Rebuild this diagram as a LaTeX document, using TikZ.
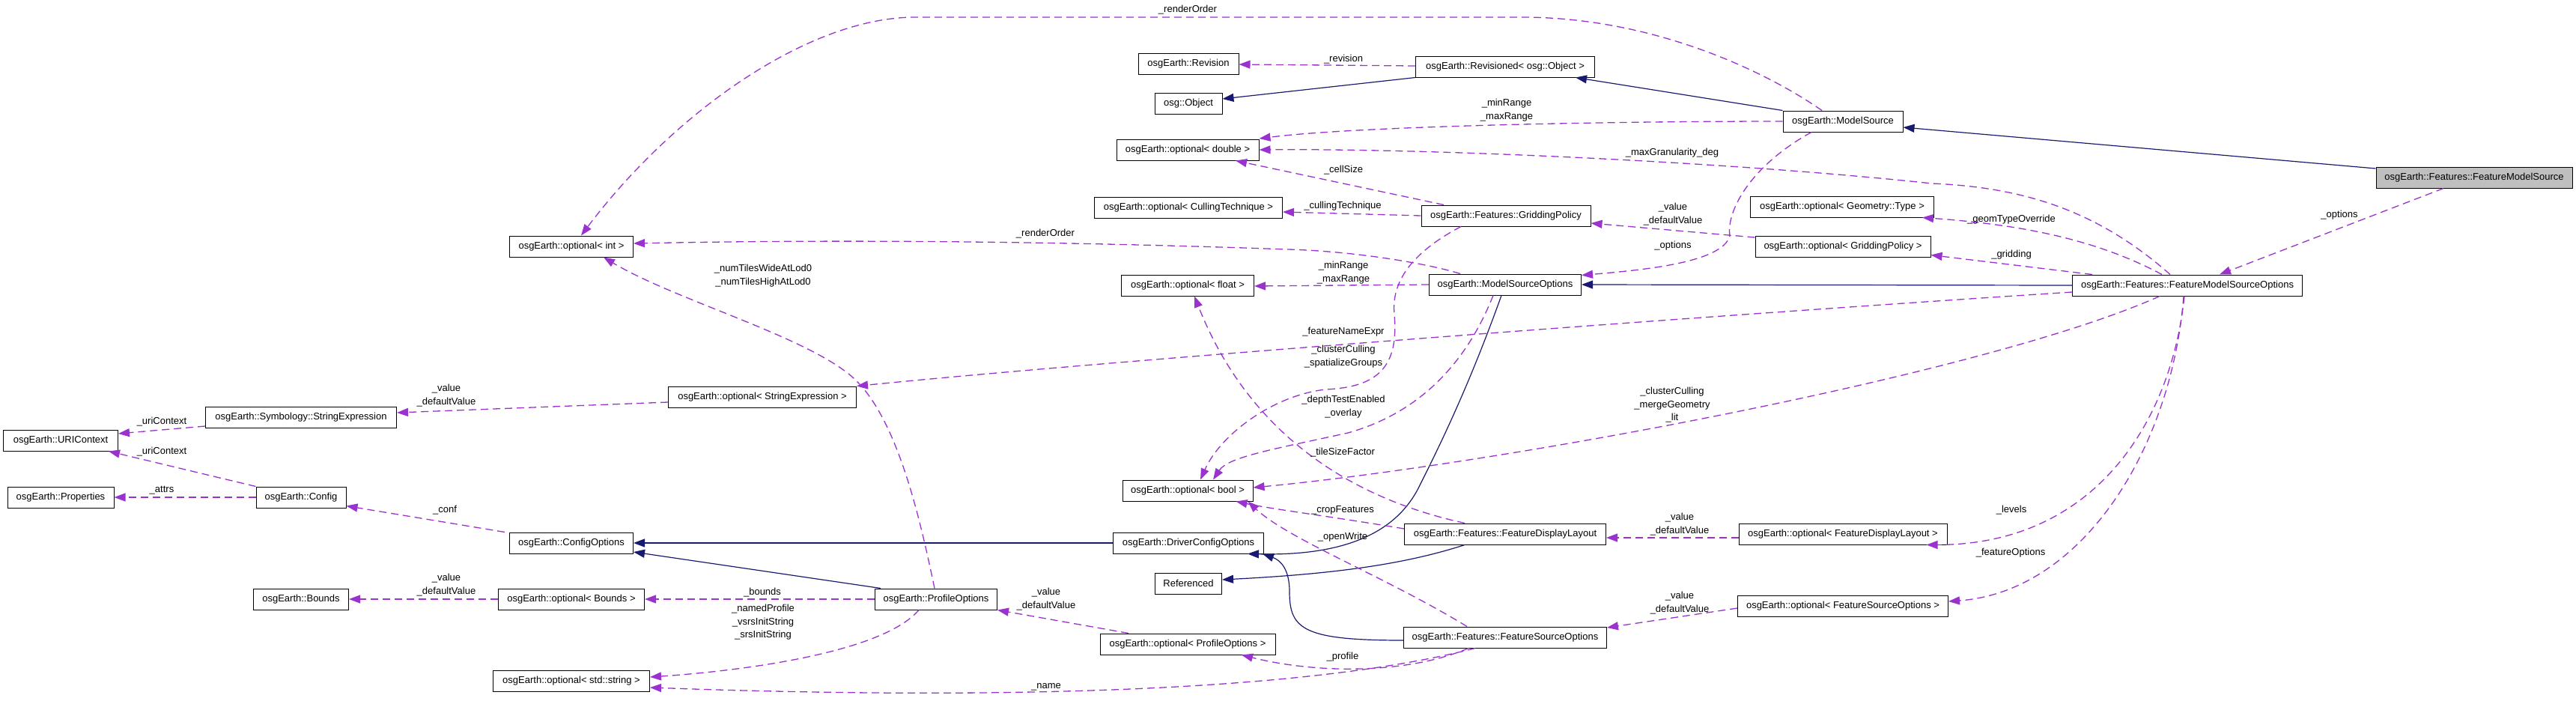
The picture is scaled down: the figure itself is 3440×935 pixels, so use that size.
\documentclass[tikz,border=0pt]{standalone}
\usepackage{fontspec}
\setmainfont{Liberation Sans}
\usetikzlibrary{arrows.meta}
\definecolor{usecol}{HTML}{9A32CD}
\definecolor{inhcol}{HTML}{191970}
\definecolor{mainfill}{HTML}{BFBFBF}
\begin{document}
\begin{tikzpicture}[x=1pt,y=-1pt,
  box/.style={draw=black,line width=1pt,fill=white,minimum height=28pt,inner sep=0pt,font=\fontsize{13}{15}\selectfont},
  mainbox/.style={box,fill=mainfill},
  dep/.style={draw=usecol,line width=1.3pt,dash pattern=on 10pt off 6pt,-{Triangle[length=15pt,width=11pt]},usecol},
  inh/.style={draw=inhcol,line width=1.2pt,-{Triangle[length=15pt,width=11pt]},inhcol},
  lbl/.style={font=\fontsize{13}{17.5}\selectfont,align=center,inner sep=0pt}
]
\useasboundingbox (0,0) rectangle (3440,935);
% nodes
\node[box,minimum width=134pt] (rev) at (1587,85) {osgEarth::Revision};
\node[box,minimum width=90pt] (obj) at (1587,138) {osg::Object};
\node[box,minimum width=190pt] (optd) at (1586,200) {osgEarth::optional< double >};
\node[box,minimum width=251pt] (optct) at (1587,277) {osgEarth::optional< CullingTechnique >};
\node[box,minimum width=239pt] (revd) at (2010,89) {osgEarth::Revisioned< osg::Object >};
\node[box,minimum width=160pt] (ms) at (2461,162) {osgEarth::ModelSource};
\node[box,minimum width=226pt] (gp) at (2011,288) {osgEarth::Features::GriddingPolicy};
\node[box,minimum width=245pt] (ogt) at (2460,276) {osgEarth::optional< Geometry::Type >};
\node[mainbox,minimum width=262pt] (fms) at (3304,237) {osgEarth::Features::FeatureModelSource};
\node[box,minimum width=165pt] (oint) at (763,329) {osgEarth::optional< int >};
\node[box,minimum width=255pt] (se) at (402,557) {osgEarth::Symbology::StringExpression};
\node[box,minimum width=153pt] (uri) at (81,588) {osgEarth::URIContext};
\node[box,minimum width=177pt] (ofl) at (1586,381) {osgEarth::optional< float >};
\node[box,minimum width=251pt] (ose) at (1018,530) {osgEarth::optional< StringExpression >};
\node[box,minimum width=203pt] (mso) at (2010,380) {osgEarth::ModelSourceOptions};
\node[box,minimum width=234pt] (ogp) at (2461,329) {osgEarth::optional< GriddingPolicy >};
\node[box,minimum width=307pt] (fmso) at (2921,381) {osgEarth::Features::FeatureModelSourceOptions};
\node[box,minimum width=142pt] (prop) at (81,664) {osgEarth::Properties};
\node[box,minimum width=120pt] (cfg) at (402,664) {osgEarth::Config};
\node[box,minimum width=165pt] (co) at (763,725) {osgEarth::ConfigOptions};
\node[box,minimum width=127pt] (bnd) at (402,800) {osgEarth::Bounds};
\node[box,minimum width=195pt] (ob) at (763,800) {osgEarth::optional< Bounds >};
\node[box,minimum width=209pt] (ostr) at (763,909) {osgEarth::optional< std::string >};
\node[box,minimum width=174pt] (obool) at (1586,655) {osgEarth::optional< bool >};
\node[box,minimum width=201pt] (dco) at (1587,725) {osgEarth::DriverConfigOptions};
\node[box,minimum width=89pt] (ref) at (1587,779) {Referenced};
\node[box,minimum width=163pt] (po) at (1250,800) {osgEarth::ProfileOptions};
\node[box,minimum width=234pt] (opo) at (1586,860) {osgEarth::optional< ProfileOptions >};
\node[box,minimum width=269pt] (fdl) at (2010,713) {osgEarth::Features::FeatureDisplayLayout};
\node[box,minimum width=271pt] (fso) at (2010,851) {osgEarth::Features::FeatureSourceOptions};
\node[box,minimum width=278pt] (ofdl) at (2461,713) {osgEarth::optional< FeatureDisplayLayout >};
\node[box,minimum width=281pt] (ofso) at (2461,809) {osgEarth::optional< FeatureSourceOptions >};
% inheritance
\draw[inh] (ms.north west) -- ([xshift=-26pt]revd.south east);
\draw[inh] (revd.south west) -- ([yshift=6pt]obj.east);
\draw[inh] ([yshift=12pt]fms.west) -- ([yshift=-8pt]ms.east);
\draw[inh] (fmso.west) -- (mso.east);
\draw[inh] ([xshift=-5pt]mso.south) .. controls (1960,520) and (1920,600) .. (1895,650) .. controls (1860,720) and (1780,742) .. ([xshift=79pt]dco.south);
\draw[inh] ([yshift=-4pt]fso.west) .. controls (1740,855) and (1722,840) .. (1722,790) .. controls (1722,760) and (1710,748) .. ([xshift=-2pt]dco.south east);
\draw[inh] ([xshift=-54pt]fdl.south) .. controls (1880,752) and (1790,766) .. ([yshift=5pt]ref.east);
\draw[inh] (dco.west) -- (co.east);
\draw[inh] ([xshift=8pt]po.north west) -- ([yshift=-12pt]co.east);
% usage
\draw[dep] ([xshift=-41pt]fms.south) -- ([xshift=43pt]fmso.north);
\draw[dep] ([xshift=-28pt]ms.north) .. controls (2350,90) and (2200,23) .. (2033,23) -- (1222,23) .. controls (1080,23) and (900,150) .. ([xshift=13pt]oint.north);
\draw[dep] (ms.west) .. controls (2100,162) and (1800,170) .. ([yshift=15pt]optd.east);
\draw[dep] ([xshift=-42pt]ms.south) .. controls (2340,220) and (2305,280) .. (2310,315) .. controls (2300,350) and (2200,360) .. ([yshift=-2pt]mso.north east);
\draw[dep] ([yshift=1pt]revd.west) -- ([yshift=-1pt]rev.east);
\draw[dep] ([xshift=-23pt]fmso.north) .. controls (2800,280) and (2700,250) .. (2580,245) .. controls (2300,215) and (1900,198) .. (optd.east);
\draw[dep] ([xshift=-83pt]gp.north) -- ([xshift=64pt]optd.south);
\draw[dep] (gp.west) -- ([yshift=-6pt]optct.east);
\draw[dep] ([yshift=12pt]ogp.west) -- ([yshift=-10pt]gp.east);
\draw[dep] ([xshift=-34pt]fmso.north) .. controls (2800,320) and (2700,300) .. ([xshift=107pt]ogt.south);
\draw[dep] ([xshift=-127pt]fmso.north) -- ([yshift=3pt]ogp.south east);
\draw[dep] ([xshift=-60pt]mso.north) .. controls (1900,350) and (1800,335) .. (1720,333) .. controls (1300,318) and (1000,322) .. ([yshift=4pt]oint.east);
\draw[dep] (mso.west) -- ([yshift=-1pt]ofl.east);
\draw[dep] ([yshift=-9pt]fmso.west) .. controls (2300,420) and (1500,480) .. (ose.north east);
\draw[dep] ([xshift=-60pt]gp.south) .. controls (1880,340) and (1858,380) .. (1862,420) .. controls (1868,490) and (1840,517) .. (1770,520) .. controls (1700,528) and (1630,580) .. ([xshift=17pt]obool.north);
\draw[dep] ([xshift=-54pt]fdl.north) .. controls (1780,660) and (1660,560) .. ([xshift=9pt]ofl.south);
\draw[dep] ([yshift=7pt]fdl.west) .. controls (1780,690) and (1700,680) .. ([xshift=-23pt]obool.south east);
\draw[dep] ([xshift=-51pt]fso.north) .. controls (1850,770) and (1720,720) .. ([xshift=-7pt]obool.south east);
\draw[dep] ([xshift=-16pt]mso.south) .. controls (1960,480) and (1900,550) .. (1800,578) .. controls (1700,600) and (1640,610) .. ([xshift=34pt]obool.north);
\draw[dep] ([xshift=-37pt]fmso.south) .. controls (2650,500) and (2000,620) .. ([yshift=4pt]obool.east);
\draw[dep] ([xshift=-49pt]fso.south) .. controls (1880,900) and (1760,900) .. ([xshift=72pt]opo.south);
\draw[dep] ([xshift=-40pt]fso.south) .. controls (1700,935) and (1200,930) .. ([yshift=-9pt]ostr.east);
\draw[dep] ([xshift=-79pt]opo.north) -- (po.south east);
\draw[dep] (po.west) -- (ob.east);
\draw[dep] ([xshift=-23pt]po.south) .. controls (1180,870) and (1000,895) .. ([yshift=5pt]ostr.east);
\draw[dep] ([xshift=-2pt]po.north) .. controls (1230,700) and (1200,560) .. (1140,505) .. controls (1080,450) and (900,400) .. ([xshift=43pt]oint.south);
\draw[dep] (ob.west) -- (bnd.east);
\draw[dep] ([xshift=-6pt]co.north west) -- ([yshift=3pt]cfg.south east);
\draw[dep] (cfg.west) -- (prop.east);
\draw[dep] (cfg.north west) -- ([xshift=64pt]uri.south);
\draw[dep] ([yshift=-12pt]se.west) -- ([yshift=9pt]uri.east);
\draw[dep] ([yshift=-7pt]ose.west) -- ([yshift=6pt]se.east);
\draw[dep] ([yshift=-5pt]ofdl.west) -- ([yshift=-5pt]fdl.east);
\draw[dep] ([yshift=-3pt]ofso.west) -- ([yshift=13pt]fso.east);
\draw[dep] ([xshift=-4pt]fmso.south) .. controls (2900,560) and (2800,727) .. ([xshift=-28pt]ofdl.south east);
\draw[dep] ([xshift=-5pt]fmso.south) .. controls (2900,600) and (2780,790) .. ([yshift=6pt]ofso.east);
% labels
\node[lbl] (l1) at (1586,13) {\_renderOrder};
\node[lbl] (l2) at (1794,79) {\_revision};
\node[lbl] (l3) at (2012,147) {\_minRange\\\_maxRange};
\node[lbl] (l4) at (2233,204) {\_maxGranularity\_deg};
\node[lbl] (l5) at (1794,227) {\_cellSize};
\node[lbl] (l6) at (1793,275) {\_cullingTechnique};
\node[lbl] (l7) at (2234,286) {\_value\\\_defaultValue};
\node[lbl] (l8) at (2686,293) {\_geomTypeOverride};
\node[lbl] (l9) at (3124,287) {\_options};
\node[lbl] (l10) at (1396,312) {\_renderOrder};
\node[lbl] (l11) at (216,563) {\_uriContext};
\node[lbl] (l12) at (216,603) {\_uriContext};
\node[lbl] (l13) at (596,528) {\_value\\\_defaultValue};
\node[lbl] (l14) at (1019,368) {\_numTilesWideAtLod0\\\_numTilesHighAtLod0};
\node[lbl] (l15) at (2234,328) {\_options};
\node[lbl] (l16) at (1794,364) {\_minRange\\\_maxRange};
\node[lbl] (l17) at (1794,443) {\_featureNameExpr};
\node[lbl] (l18) at (1794,476) {\_clusterCulling\\\_spatializeGroups};
\node[lbl] (l19) at (1794,543) {\_depthTestEnabled\\\_overlay};
\node[lbl] (l20) at (2233,541) {\_clusterCulling\\\_mergeGeometry\\\_lit};
\node[lbl] (l21) at (1793,604) {\_tileSizeFactor};
\node[lbl] (l22) at (2686,340) {\_gridding};
\node[lbl] (l23) at (216,655) {\_attrs};
\node[lbl] (l24) at (594,681) {\_conf};
\node[lbl] (l25) at (596,781) {\_value\\\_defaultValue};
\node[lbl] (l26) at (1018,791) {\_bounds};
\node[lbl] (l27) at (1019,831) {\_namedProfile\\\_vsrsInitString\\\_srsInitString};
\node[lbl] (l28) at (1397,800) {\_value\\\_defaultValue};
\node[lbl] (l29) at (1397,917) {\_name};
\node[lbl] (l30) at (1793,681) {\_cropFeatures};
\node[lbl] (l31) at (1793,717) {\_openWrite};
\node[lbl] (l32) at (2243,700) {\_value\\\_defaultValue};
\node[lbl] (l33) at (2243,805) {\_value\\\_defaultValue};
\node[lbl] (l34) at (1793,877) {\_profile};
\node[lbl] (l35) at (2686,681) {\_levels};
\node[lbl] (l36) at (2685,738) {\_featureOptions};
\end{tikzpicture}
\end{document}
